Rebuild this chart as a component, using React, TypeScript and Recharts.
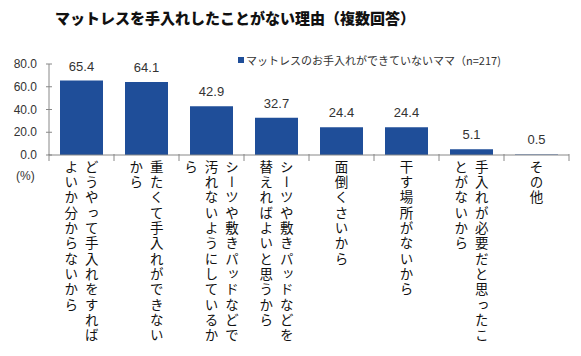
import React from "react";
import { BarChart, Bar, XAxis, YAxis, LabelList, Legend } from "recharts";

// 理由（縦書きラベル、列ごと）
const reasons: string[][] = [
  ["どうやって手入れをすれば", "よいか分からないから"],
  ["重たくて手入れができない", "から"],
  ["シーツや敷きパッドなどで", "汚れないようにしているか", "ら"],
  ["シーツや敷きパッドなどを", "替えればよいと思うから"],
  ["面倒くさいから"],
  ["干す場所がないから"],
  ["手入れが必要だと思ったこ", "とがないから"],
  ["その他"],
];
const percents = [65.4, 64.1, 42.9, 32.7, 24.4, 24.4, 5.1, 0.5];
const yTicks = [0, 20, 40, 60, 80];
const seriesName = "マットレスのお手入れができていないママ（n=217)";

const data = percents.map((v, i) => ({ key: String(i), value: v }));

const BAR = "#1F4E99";
const BAND = 65;

function CategoryTick(props: any) {
  const { x, y, payload, index } = props;
  const cols = reasons[Number(payload.value)] || [];
  const gap = 20.5;
  const n = cols.length;
  return (
    <g>
      <line x1={x - BAND / 2} x2={x - BAND / 2} y1={y - 3} y2={y + 4} stroke="#888" />
      {index === percents.length - 1 && (
        <line x1={x + BAND / 2} x2={x + BAND / 2} y1={y - 3} y2={y + 4} stroke="#888" />
      )}
      {cols.map((c, i) => (
        <text
          key={i}
          x={x + ((n - 1) / 2) * gap - i * gap}
          y={y + 3}
          fontSize={13.5}
          fill="#111"
          fontFamily="'Noto Sans CJK JP', sans-serif"
          style={{ writingMode: "vertical-rl", letterSpacing: 1.8 }}
        >
          {c}
        </text>
      ))}
    </g>
  );
}

// y 目盛り：軸をまたぐ短い線
function ValueTick(props: any) {
  const { x, y, payload } = props;
  const ax = x + 12;
  return (
    <g>
      <line x1={ax - 3} x2={ax + 3} y1={y} y2={y} stroke="#888" />
      <text x={x} y={y} dy={4} textAnchor="end" fontSize={12} fill="#333" fontFamily="'Liberation Sans', Arial, sans-serif">
        {Number(payload.value).toFixed(1)}
      </text>
    </g>
  );
}

function LegendBox() {
  return (
    <div style={{ display: "flex", alignItems: "center", fontSize: 11, color: "#333", fontFamily: "'Noto Sans CJK JP', sans-serif" }}>
      <span style={{ width: 6, height: 6, background: BAR, display: "inline-block", marginRight: 2 }} />
      <span>{seriesName}</span>
    </div>
  );
}

export default function App() {
  return (
    <div style={{ position: "absolute", left: 0, top: 0, width: 581, height: 356, background: "#fff" }}>
      <div
        style={{
          position: "absolute",
          left: 55,
          top: 8,
          fontSize: 15,
          fontWeight: 900,
          color: "#111",
          fontFamily: "'Noto Sans CJK JP', sans-serif",
          whiteSpace: "nowrap",
          lineHeight: "20px",
        }}
      >
        マットレスを手入れしたことがない理由（複数回答）
      </div>
      <div style={{ position: "absolute", left: 16, top: 169, fontSize: 12, color: "#333", fontFamily: "'Liberation Sans', Arial, sans-serif" }}>
        (%)
      </div>
      <BarChart width={581} height={356} data={data} margin={{ top: 48, right: 12, left: 0, bottom: 0 }}>
        <YAxis
          width={49}
          domain={[0, 80]}
          ticks={yTicks}
          interval={0}
          axisLine={{ stroke: "#888" }}
          tickLine={false}
          tickSize={0}
          tickMargin={12}
          tick={<ValueTick />}
        />
        <XAxis
          dataKey="key"
          height={201}
          interval={0}
          tickLine={false}
          tickSize={0}
          axisLine={{ stroke: "#888" }}
          tick={<CategoryTick />}
        />
        <Legend
          verticalAlign="top"
          align="left"
          wrapperStyle={{ position: "absolute", left: 238, top: 52, width: "auto" }}
          content={() => <LegendBox />}
        />
        <Bar dataKey="value" fill={BAR} barSize={43} isAnimationActive={false}>
          <LabelList
            dataKey="value"
            position="top"
            offset={10}
            formatter={(v: any) => Number(v).toFixed(1)}
            style={{ fontSize: 13, fill: "#333", fontFamily: "'Liberation Sans', Arial, sans-serif" }}
          />
        </Bar>
      </BarChart>
    </div>
  );
}
